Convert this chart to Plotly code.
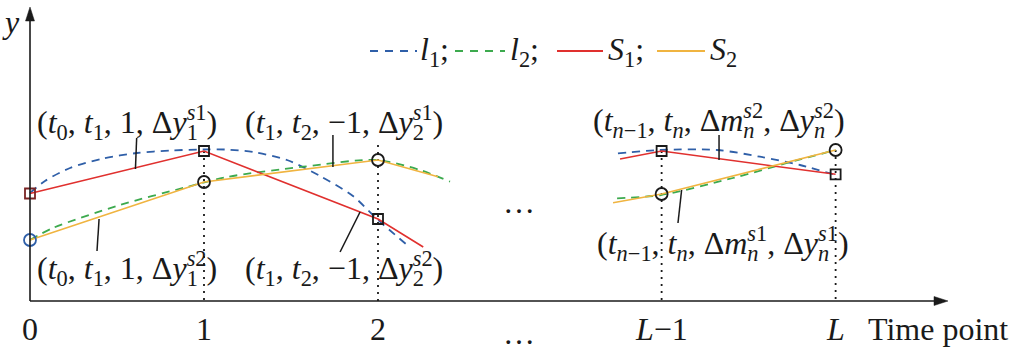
import plotly.graph_objects as go

# ---------------- data (schematic units: x = time index, y = value) ----------------
tick_pos = [0, 1, 2, 3.63, 4.63]
tick_text = ["0", "1", "2", "<i>L</i>−1", "<i>L</i>"]

l1_left_x = [0, 0.086, 0.230, 0.420, 0.615, 0.805, 0.994, 1.121, 1.282, 1.477, 1.667, 1.856, 1.994, 2.167]
l1_left_y = [1.08, 1.20, 1.33, 1.425, 1.48, 1.505, 1.515, 1.515, 1.49, 1.41, 1.25, 1.05, 0.82, 0.56]
l1_right_x = [3.379, 3.621, 3.948, 4.195, 4.425, 4.63]
l1_right_y = [1.477, 1.51, 1.51, 1.443, 1.36, 1.26]

l2_left_x = [0, 0.132, 0.517, 0.902, 1.132, 1.569, 1.994, 2.241, 2.414]
l2_left_y = [0.61, 0.73, 0.96, 1.14, 1.24, 1.343, 1.41, 1.31, 1.193]
l2_right_x = [3.374, 3.626, 4.04, 4.351, 4.63]
l2_right_y = [1.027, 1.06, 1.23, 1.38, 1.51]

s1_left_x = [0, 1, 2, 2.26]
s1_left_y = [1.075, 1.50, 0.82, 0.54]
s1_right_x = [3.391, 3.63, 4.63]
s1_right_y = [1.42, 1.50, 1.267]

s2_left_x = [0, 1, 2, 2.345]
s2_left_y = [0.61, 1.19, 1.41, 1.243]
s2_right_x = [3.351, 3.63, 4.63]
s2_right_y = [0.983, 1.07, 1.51]

square_x = [1, 2, 3.63, 4.63]
square_y = [1.50, 0.82, 1.50, 1.267]
circle_x = [1, 2, 3.63, 4.63]
circle_y = [1.19, 1.41, 1.07, 1.51]
start_square = (0, 1.075)
start_circle = (0, 0.61)

guide_x = [1, 2, 3.63, 4.63]
guide_top = [1.50, 1.56, 1.50, 1.51]
guide_bottom = -0.03

# leader lines (label callouts): (x0, y0, x1, y1)
leaders = [
    (0.613, 1.63, 0.606, 1.32),
    (1.741, 1.66, 1.741, 1.34),
    (0.397, 0.82, 0.385, 0.50),
    (1.897, 0.89, 1.782, 0.49),
    (3.960, 1.66, 3.960, 1.41),
    (3.745, 1.11, 3.724, 0.78),
]

legend_names = ["<i>l</i><sub>1</sub>;", "<i>l</i><sub>2</sub>;", "<i>S</i><sub>1</sub>;", "<i>S</i><sub>2</sub>"]


def stacked(sub, sup):
    # subscript stacked under superscript: the subscript's trailing letter-spacing
    # pulls the superscript back over it
    return f"<sub><span style=\"letter-spacing:-0.5em\">{sub}</span></sub><sup>{sup}</sup>"


labels_main = [
    "(<i>t</i><sub>0</sub>, <i>t</i><sub>1</sub>, 1, Δ<i>y</i>" + stacked("1", "<i>s</i>1") + ")",
    "(<i>t</i><sub>1</sub>, <i>t</i><sub>2</sub>, −1, Δ<i>y</i>" + stacked("2", "<i>s</i>1") + ")",
    "(<i>t</i><sub>0</sub>, <i>t</i><sub>1</sub>, 1, Δ<i>y</i>" + stacked("1", "<i>s</i>2") + ")",
    "(<i>t</i><sub>1</sub>, <i>t</i><sub>2</sub>, −1, Δ<i>y</i>" + stacked("2", "<i>s</i>2") + ")",
    "(<i>t</i><sub><i>n</i>−1</sub>, <i>t</i><sub><i>n</i></sub>, Δ<i>m</i>" + stacked("<i>n</i>", "<i>s</i>2")
    + ", Δ<i>y</i>" + stacked("<i>n</i>", "<i>s</i>2") + ")",
    "(<i>t</i><sub><i>n</i>−1</sub>, <i>t</i><sub><i>n</i></sub>, Δ<i>m</i>" + stacked("<i>n</i>", "<i>s</i>1")
    + ", Δ<i>y</i>" + stacked("<i>n</i>", "<i>s</i>1") + ")",
]

# ---------------- styling / layout helpers ----------------
W, H = 1014, 351
FONT = "Liberation Serif, Times New Roman, serif"
FS = 32
BLUE = "#2F5FA8"
GREEN = "#3DAA4E"
RED = "#E0302E"
ORANGE = "#F0B440"
DARKRED = "#7A2424"
INK = "#1a1a1a"


def X(px):
    return (px - 30) / 174.0


def Y(py):
    return (301 - py) / 100.0


fig = go.Figure()

DASH = "8px,6px"


def line(x, y, color, dash=None, width=1.6, shape="linear"):
    fig.add_trace(go.Scatter(
        x=x, y=y, mode="lines", hoverinfo="skip", showlegend=False,
        line=dict(color=color, width=width, dash=dash, shape=shape, smoothing=0.8),
    ))


# guide dotted lines
for gx, gt in zip(guide_x, guide_top):
    line([gx, gx], [gt, guide_bottom], INK, dash="2px,5px", width=1.8)

line(l1_left_x, l1_left_y, BLUE, DASH, 1.8, "spline")
line(l1_right_x, l1_right_y, BLUE, DASH, 1.8, "spline")
line(l2_left_x, l2_left_y, GREEN, DASH, 1.8, "spline")
line(l2_right_x, l2_right_y, GREEN, DASH, 1.8, "spline")
line(s1_left_x, s1_left_y, RED, None, 1.6)
line(s1_right_x, s1_right_y, RED, None, 1.6)
line(s2_left_x, s2_left_y, ORANGE, None, 1.6)
line(s2_right_x, s2_right_y, ORANGE, None, 1.6)

for (x0, y0, x1, y1) in leaders:
    line([x0, x1], [y0, y1], INK, None, 1.5)

fig.add_trace(go.Scatter(x=square_x, y=square_y, mode="markers", hoverinfo="skip", showlegend=False,
                         marker=dict(symbol="square-open", size=10, color=INK, line=dict(width=1.8))))
fig.add_trace(go.Scatter(x=circle_x, y=circle_y, mode="markers", hoverinfo="skip", showlegend=False,
                         marker=dict(symbol="circle-open", size=12, color=INK, line=dict(width=1.8))))
fig.add_trace(go.Scatter(x=[start_square[0]], y=[start_square[1]], mode="markers", hoverinfo="skip",
                         showlegend=False,
                         marker=dict(symbol="square-open", size=10, color=DARKRED, line=dict(width=1.8))))
fig.add_trace(go.Scatter(x=[start_circle[0]], y=[start_circle[1]], mode="markers", hoverinfo="skip",
                         showlegend=False,
                         marker=dict(symbol="circle-open", size=12, color=BLUE, line=dict(width=1.8))))

shapes = []
# axes
shapes.append(dict(type="line", xref="x", yref="y", x0=X(30), y0=Y(301), x1=X(30), y1=Y(18),
                   line=dict(color=INK, width=1.6)))
shapes.append(dict(type="line", xref="x", yref="y", x0=X(30), y0=Y(301), x1=X(937), y1=Y(301),
                   line=dict(color=INK, width=1.6)))
shapes.append(dict(type="path", xref="x", yref="y",
                   path=f"M {X(30)} {Y(7)} L {X(25.5)} {Y(21)} L {X(34.5)} {Y(21)} Z",
                   fillcolor=INK, line=dict(color=INK, width=0.5)))
shapes.append(dict(type="path", xref="x", yref="y",
                   path=f"M {X(948)} {Y(301)} L {X(934)} {Y(296.5)} L {X(934)} {Y(305.5)} Z",
                   fillcolor=INK, line=dict(color=INK, width=0.5)))

# legend samples
legend_colors = [BLUE, GREEN, RED, ORANGE]
legend_dash = ["8px,7px", "8px,7px", "solid", "solid"]
legend_line_px = [(370, 417), (455, 505), (557, 603), (657, 705)]
legend_text_px = [420, 510, 608, 710]
for (a, b), c, d in zip(legend_line_px, legend_colors, legend_dash):
    shapes.append(dict(type="line", xref="x", yref="y", x0=X(a), x1=X(b), y0=Y(51), y1=Y(51),
                       line=dict(color=c, width=1.8, dash=d)))

ann = []


def text(px, py, s, anchor="center", size=FS, yanchor="middle"):
    ann.append(dict(x=X(px), y=Y(py), xref="x", yref="y", text=s, showarrow=False,
                    xanchor=anchor, yanchor=yanchor, borderpad=0, borderwidth=0,
                    font=dict(family=FONT, size=size, color=INK)))


for tx, nm in zip(legend_text_px, legend_names):
    text(tx, 51, nm, "left")

# tick labels
for tp, tt in zip(tick_pos, tick_text):
    text(30 + 174 * tp, 329, tt)
text(868, 329, "Time point", "left")
text(519, 333, "…")
text(519, 202, "…")
text(11, 22, "<i>y</i>")

# labels: (left px, center py)
label_pos = [(37, 122), (245, 122), (37, 268), (245, 268), (593, 120), (597, 243)]
for (lx, ly), s in zip(label_pos, labels_main):
    text(lx, ly, s, "left")

fig.update_layout(
    width=W, height=H, autosize=False,
    margin=dict(l=0, r=0, t=0, b=0),
    paper_bgcolor="white", plot_bgcolor="white",
    xaxis=dict(range=[X(0), X(W)], visible=False, fixedrange=True),
    yaxis=dict(range=[Y(H), Y(0)], visible=False, fixedrange=True),
    shapes=shapes, annotations=ann, showlegend=False,
)

fig.write_html("out.html")
